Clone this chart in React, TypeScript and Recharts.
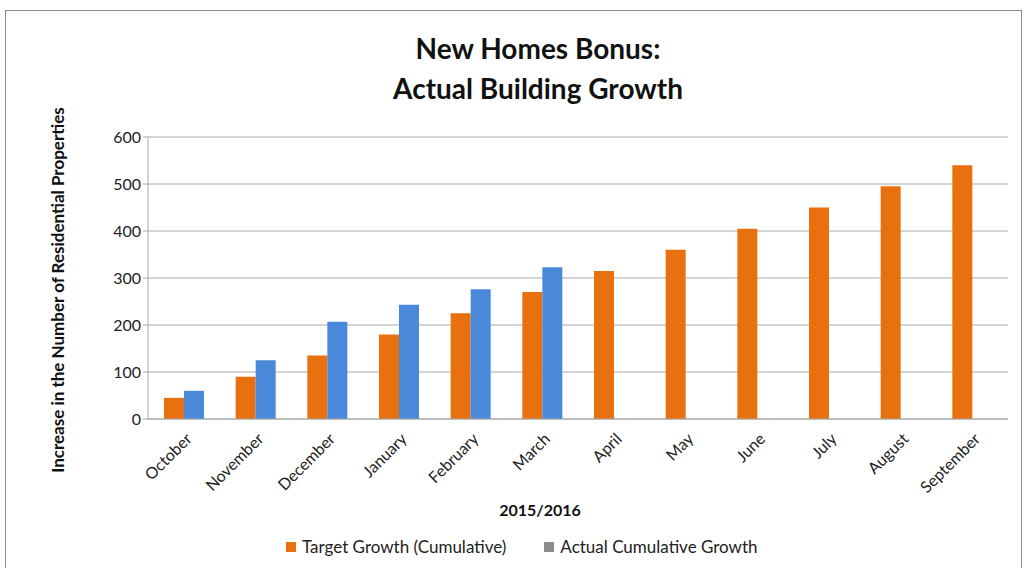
import React from 'react';
import { BarChart, Bar, XAxis, YAxis, CartesianGrid } from 'recharts';

const months = ['October', 'November', 'December', 'January', 'February', 'March', 'April', 'May', 'June', 'July', 'August', 'September'];
const targetGrowth = [45, 90, 135, 180, 225, 270, 315, 360, 405, 450, 495, 540];
const actualGrowth: (number | null)[] = [60, 125, 207, 243, 276, 323, null, null, null, null, null, null];
const yTicks = [0, 100, 200, 300, 400, 500, 600];

const ORANGE = '#E8700E';
const BLUE = '#4A88DA';
const FONT = 'Lato, "Open Sans", sans-serif';

const data = months.map((m, i) => ({ month: m, target: targetGrowth[i], actual: actualGrowth[i] }));

const MonthTick = (props: any) => {
  const { x, y, payload } = props;
  return (
    <text x={x + 9} y={y + 13} transform={`rotate(-45, ${x + 9}, ${y + 13})`} textAnchor="end" fontSize={16} fill="#222" fontFamily={FONT}>
      {payload.value}
    </text>
  );
};

const App: React.FC = () => {
  return (
    <div style={{ position: 'relative', width: 1026, height: 568, background: '#fff', fontFamily: FONT, overflow: 'hidden' }}>
      <style>{`body{margin:0}`}</style>
      <div style={{ position: 'absolute', left: 5, top: 10, width: 1015, height: 570, border: '1px solid #8a8a8a' }} />
      <div style={{ position: 'absolute', left: 0, width: 1076, top: 28, textAlign: 'center', fontWeight: 700, fontSize: 28, lineHeight: '40px', color: '#111' }}>
        New Homes Bonus:<br />Actual Building Growth
      </div>
      <div style={{ position: 'absolute', left: 57, top: 290, transform: 'translate(-50%, -50%) rotate(-90deg)', whiteSpace: 'nowrap', fontWeight: 700, fontSize: 17, color: '#111' }}>
        Increase in the Number of Residential Properties
      </div>
      <div style={{ position: 'absolute', left: 0, width: 1080, top: 500, textAlign: 'center', fontWeight: 700, fontSize: 16, color: '#111' }}>
        2015/2016
      </div>
      <div style={{ position: 'absolute', left: 286, top: 536, display: 'flex', alignItems: 'center', fontSize: 17, color: '#222' }}>
        <span style={{ width: 10, height: 10, background: ORANGE, display: 'inline-block', marginRight: 6 }} />
        <span>Target Growth (Cumulative)</span>
        <span style={{ width: 10, height: 10, background: '#8c8c8c', display: 'inline-block', marginLeft: 38, marginRight: 6 }} />
        <span>Actual Cumulative Growth</span>
      </div>
      <div style={{ position: 'absolute', left: 0, top: 0 }}>
        <BarChart width={1026} height={568} data={data} margin={{ top: 137, right: 18, bottom: 69, left: 98 }} barSize={20} barGap={0}>
          <CartesianGrid vertical={false} stroke="#a8a8a8" strokeWidth={1} />
          <XAxis dataKey="month" axisLine={{ stroke: '#a8a8a8' }} tickLine={false} interval={0} height={80} tick={<MonthTick />} />
          <YAxis domain={[0, 600]} ticks={yTicks} width={50} axisLine={{ stroke: '#a8a8a8' }} tickLine={{ stroke: '#a8a8a8' }} tickSize={5} tick={{ fontSize: 16, fill: '#222', fontFamily: FONT }} />
          <Bar dataKey="target" fill={ORANGE} isAnimationActive={false} />
          <Bar dataKey="actual" fill={BLUE} isAnimationActive={false} />
        </BarChart>
      </div>
    </div>
  );
};

export default App;
